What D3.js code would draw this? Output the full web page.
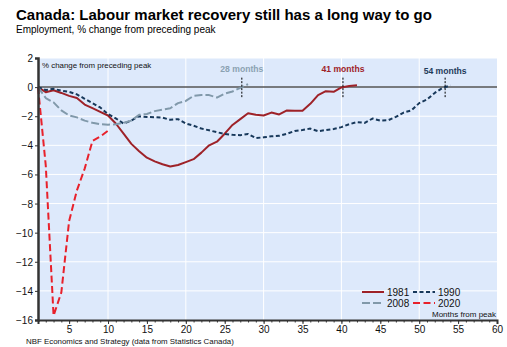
<!DOCTYPE html>
<html>
<head>
<meta charset="utf-8">
<script src="https://cdn.jsdelivr.net/npm/d3@7"></script>
<style>
  body { margin: 0; background: #fff; }
  svg text { font-family: Arial, 'Liberation Sans', sans-serif; }
</style>
</head>
<body>
<svg width="507" height="347"></svg>
<script>
// employment, % change from preceding peak, by month (peak = month 1)
const months1981 = [0, -0.35, -0.22, -0.4, -0.6, -0.75, -1.2, -1.45, -1.7, -1.95,
  -2.5, -3.2, -3.9, -4.4, -4.85, -5.1, -5.3, -5.45, -5.35, -5.15,
  -4.95, -4.5, -4.0, -3.75, -3.2, -2.6, -2.2, -1.8, -1.9, -1.95,
  -1.75, -1.88, -1.6, -1.62, -1.62, -1.15, -0.55, -0.28, -0.32, -0.02,
  0.08, 0.12]
const months1990 = [0, -0.2, -0.12, -0.25, -0.33, -0.5, -0.8, -1.1, -1.4, -1.85,
  -2.15, -2.5, -2.3, -2.0, -2.05, -2.07, -2.1, -2.25, -2.2, -2.5,
  -2.65, -2.85, -2.97, -3.1, -3.22, -3.28, -3.3, -3.22, -3.5, -3.45,
  -3.38, -3.35, -3.2, -3.02, -2.95, -2.85, -3.03, -2.95, -2.88, -2.75,
  -2.55, -2.4, -2.46, -2.16, -2.3, -2.28, -2.05, -1.75, -1.6, -1.1,
  -0.85, -0.4, -0.06, 0.12]
const months2008 = [0, -0.75, -1.05, -1.6, -1.95, -2.08, -2.3, -2.45, -2.55, -2.58,
  -2.55, -2.45, -2.3, -1.9, -1.85, -1.65, -1.55, -1.45, -1.1, -0.95,
  -0.6, -0.55, -0.55, -0.72, -0.45, -0.3, -0.05, 0.2]
const months2020 = [0, -5.4, -15.7, -14.1, -9.2, -7.1, -5.6, -3.7, -3.4, -3.0]

const seriesNames = ['1981', '1990', '2008', '2020']
const seriesValues = [months1981, months1990, months2008, months2020]
const seriesColors = ['#9e2228', '#17385a', '#8199aa', '#e8212b']
const seriesDash = [null, '4,2.5', '8,3', '7,3.5']

// recovery annotations: which series, and the label shown above the zero line
const recoverySeries = ['2008', '1981', '1990']
const recoveryLabels = ['28 months', '41 months', '54 months']
const recoveryColors = ['#8ba2b2', '#9e2228', '#1f3b5a']

const yTicks = d3.range(-16, 3, 2)
const xTicks = d3.range(5, 61, 5)

const svg = d3.select('svg')
const margin = { left: 38, right: 497, top: 58, bottom: 320 }

const x = d3.scaleLinear().domain([1, 60]).range([margin.left, margin.right])
const y = d3.scaleLinear().domain([-16, 2]).range([margin.bottom, margin.top])

/*

TITLES

*/
svg.append('text')
  .attr('x', 16).attr('y', 20)
  .style('font-size', '15px').style('font-weight', 'bold').attr('fill', '#000')
  .text('Canada: Labour market recovery still has a long way to go')

svg.append('text')
  .attr('x', 16).attr('y', 32.5)
  .style('font-size', '10px').attr('fill', '#000')
  .text('Employment, % change from preceding peak')

/*

PLOT AREA + GRID

*/
svg.append('rect')
  .attr('x', x(1)).attr('y', y(2))
  .attr('width', x(60) - x(1)).attr('height', y(-16) - y(2))
  .attr('fill', '#dde9fb')

svg.append('g')
  .selectAll('line')
  .data(yTicks.filter(d => d !== 0 && d !== -16))
  .join('line')
  .attr('x1', x(1)).attr('x2', x(60))
  .attr('y1', d => y(d)).attr('y2', d => y(d))
  .attr('stroke', '#fff').attr('stroke-width', 1)

svg.append('g')
  .selectAll('line')
  .data([10, 20, 30, 40, 50])
  .join('line')
  .attr('x1', d => x(d)).attr('x2', d => x(d))
  .attr('y1', y(2)).attr('y2', y(-16))
  .attr('stroke', '#fff').attr('stroke-width', 1)

svg.append('line')
  .attr('x1', x(1)).attr('x2', x(60))
  .attr('y1', y(0)).attr('y2', y(0))
  .attr('stroke', '#555').attr('stroke-width', 1.5)

svg.append('text')
  .attr('x', 42).attr('y', 68)
  .style('font-size', '7.9px').attr('fill', '#111')
  .text('% change from preceding peak')

/*

SERIES

*/
const line = d3.line()
  .x((d, i) => x(i + 1))
  .y(d => y(d))

svg.append('g')
  .selectAll('path')
  .data(seriesValues)
  .join('path')
  .attr('d', line)
  .attr('fill', 'none')
  .attr('stroke', (d, i) => seriesColors[i])
  .attr('stroke-width', 2)
  .attr('stroke-dasharray', (d, i) => seriesDash[i])
  .attr('stroke-linejoin', 'round')

// month where a series gets back to its previous peak
const zeroCrossing = values => {
  const trough = values.indexOf(d3.min(values))
  for (let i = trough + 1; i < values.length; i++) {
    if (values[i] >= 0) {
      const a = values[i - 1], b = values[i]
      return i + (-a) / (b - a)
    }
  }
  return values.length
}

const marks = recoverySeries.map((name, i) => ({
  at: zeroCrossing(seriesValues[seriesNames.indexOf(name)]),
  label: recoveryLabels[i],
  color: recoveryColors[i]
}))

const mark = svg.append('g').selectAll('g')
  .data(marks)
  .join('g')

mark.append('line')
  .attr('x1', d => x(d.at)).attr('x2', d => x(d.at))
  .attr('y1', y(0.65)).attr('y2', y(-0.7))
  .attr('stroke', '#000').attr('stroke-width', 1)
  .attr('stroke-dasharray', '2,1.5')

mark.append('text')
  .attr('x', d => x(d.at))
  .attr('y', (d, i) => i === 2 ? 74 : 72)
  .attr('text-anchor', 'middle')
  .style('font-size', '8.6px').style('font-weight', 'bold')
  .attr('fill', d => d.color)
  .text(d => d.label)

/*

AXES

*/
const xAxis = svg.append('g')
  .attr('transform', `translate(0,${y(-16)})`)
  .call(d3.axisBottom(x).tickValues(xTicks).tickSize(4).tickPadding(2))

svg.append('g')
  .attr('transform', `translate(0,${y(-16)})`)
  .call(d3.axisBottom(x).tickValues(d3.range(1, 61)).tickSize(2.5).tickFormat(''))
  .call(g => g.select('.domain').remove())
  .selectAll('line').attr('stroke', '#333')

xAxis.select('.domain').attr('stroke', '#333').attr('stroke-width', 2)
xAxis.selectAll('line').attr('stroke', '#333')
xAxis.selectAll('text').style('font-size', '10px').attr('fill', '#111')

const yAxis = svg.append('g')
  .attr('transform', `translate(${x(1)},0)`)
  .call(d3.axisLeft(y).tickValues(yTicks).tickSize(3).tickPadding(2))

yAxis.select('.domain').attr('stroke', '#333').attr('stroke-width', 2.5)
yAxis.selectAll('line').attr('stroke', '#333')
yAxis.selectAll('text').style('font-size', '10px').attr('fill', '#111')
  .attr('dy', '0.35em')

svg.append('text')
  .attr('x', 496).attr('y', 317)
  .attr('text-anchor', 'end')
  .style('font-size', '8px').attr('fill', '#111')
  .text('Months from peak')

/*

LEGEND

*/
const legend = svg.append('g').selectAll('g')
  .data(seriesNames)
  .join('g')
  .attr('transform', (d, i) => `translate(${362 + (i % 2) * 51},${292 + Math.floor(i / 2) * 11})`)

legend.append('line')
  .attr('x1', 0).attr('x2', 22)
  .attr('stroke', (d, i) => seriesColors[i])
  .attr('stroke-width', 2)
  .attr('stroke-dasharray', (d, i) => seriesDash[i])

legend.append('text')
  .attr('x', 25).attr('y', 3.8)
  .style('font-size', '10px').attr('fill', '#111')
  .text(d => d)

svg.append('text')
  .attr('x', 26).attr('y', 344)
  .style('font-size', '7.9px').attr('fill', '#111')
  .text('NBF Economics and Strategy (data from Statistics Canada)')
</script>
</body>
</html>
